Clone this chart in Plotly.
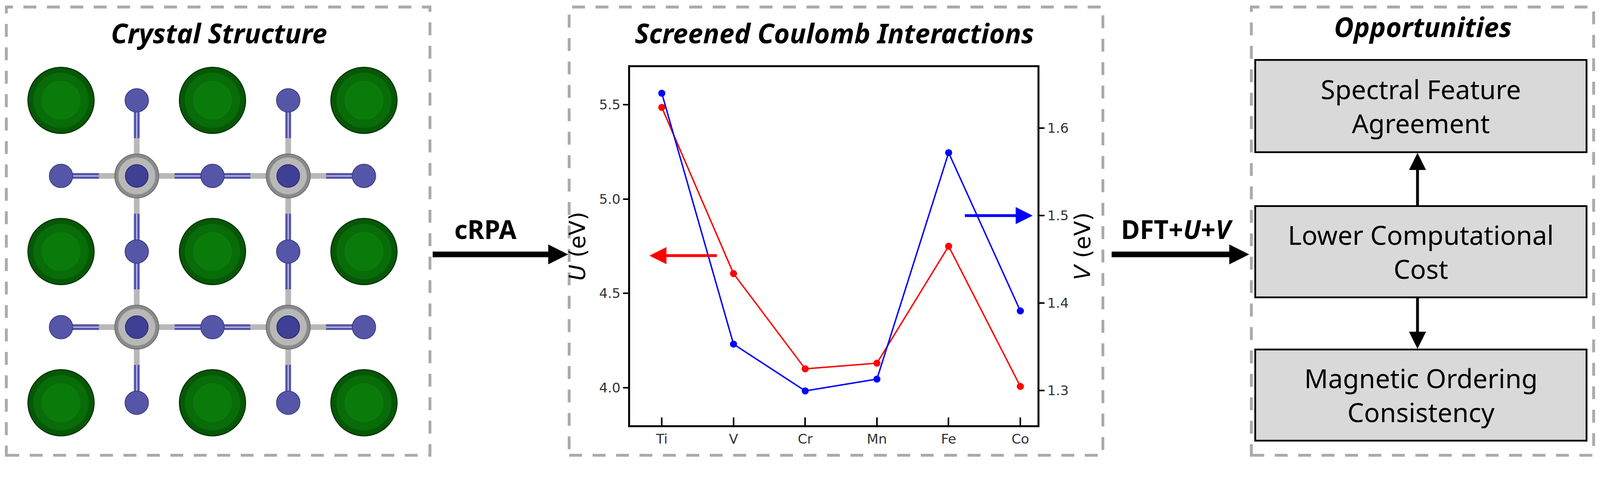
import plotly.graph_objects as go

W, H = 4487, 1283
S = 1 / 1.1  # page renders at 1.1 device px per css px

# screened Coulomb interactions
elements = ["Ti", "V", "Cr", "Mn", "Fe", "Co"]
u_onsite = [5.486, 4.605, 4.10, 4.13, 4.75, 4.007]
v_intersite = [1.640, 1.353, 1.2995, 1.313, 1.572, 1.391]
u_ticks = [4.0, 4.5, 5.0, 5.5]
v_ticks = [1.3, 1.4, 1.5, 1.6]

# crystal structure, in lattice units (half cell steps)
cation_x = [0, 2, 4, 0, 2, 4, 0, 2, 4]
cation_y = [0, 0, 0, 2, 2, 2, 4, 4, 4]
metal_x = [1, 3, 1, 3]
metal_y = [1, 1, 3, 3]
anion_x = [1, 3, 0, 2, 4, 1, 3, 0, 2, 4, 1, 3]
anion_y = [0, 0, 1, 1, 1, 2, 2, 3, 3, 3, 4, 4]

opportunities = ["Spectral Feature<br>Agreement",
                 "Lower Computational<br>Cost",
                 "Magnetic Ordering<br>Consistency"]


def px(x):
    return x / W


def py(y):
    return 1 - y / H


def s(v):
    return v * S


def atoms(x, y, size, color, line_color=None, line_width=0):
    return go.Scatter(x=x, y=y, mode="markers", xaxis="x3", yaxis="y3", cliponaxis=False,
                      marker=dict(size=s(size), color=color,
                                  line=dict(color=line_color or color, width=line_width)),
                      hoverinfo="skip")


def bonds(x, y, color, width):
    return go.Scatter(x=x, y=y, mode="lines", xaxis="x3", yaxis="y3", cliponaxis=False,
                      line=dict(color=color, width=s(width)), hoverinfo="skip")


fig = go.Figure()

# ---- crystal panel (x3/y3)
for c in [1, 3]:
    # bonds: grey full length, blue half next to anions
    fig.add_trace(bonds([c, c], [0, 4], "#b8b8b8", 16))
    fig.add_trace(bonds([0, 4], [c, c], "#b8b8b8", 16))
seg_x, seg_y = [], []
for ax_, ay_ in zip(anion_x, anion_y):
    for mx, my in zip(metal_x, metal_y):
        if abs(ax_ - mx) + abs(ay_ - my) == 1:
            seg_x += [ax_, (ax_ + mx) / 2, None]
            seg_y += [ay_, (ay_ + my) / 2, None]
fig.add_trace(bonds(seg_x, seg_y, "#5656a8", 16))
fig.add_trace(bonds(seg_x, seg_y, "#c8c8f0", 3))
fig.add_trace(atoms(cation_x, cation_y, 186, "#065806", "#043604", 3))
fig.add_trace(atoms(cation_x, cation_y, 156, "#086c08"))
fig.add_trace(atoms(cation_x, cation_y, 110, "#0a7b0a"))
fig.add_trace(atoms(metal_x, metal_y, 124, "#8a8a8a", "#6a6a6a", 2))
fig.add_trace(atoms(metal_x, metal_y, 104, "#b8b8b8"))
fig.add_trace(atoms(metal_x, metal_y, 64, "#3f3f96", "#2a2a6a", 2))
fig.add_trace(atoms(anion_x, anion_y, 66, "#5656a8", "#3a3a80", 2))

# ---- U / V chart
xs = list(range(len(elements)))
fig.add_trace(go.Scatter(x=xs, y=u_onsite, mode="lines+markers", name="U",
                         line=dict(color="#ff0000", width=s(4)), marker=dict(color="#ff0000", size=s(20))))
fig.add_trace(go.Scatter(x=xs, y=v_intersite, mode="lines+markers", name="V", yaxis="y2",
                         line=dict(color="#0000ff", width=s(4)), marker=dict(color="#0000ff", size=s(20))))

tick_font = dict(family="DejaVu Sans", size=s(38), color="#333333")
axis_title_font = dict(family="DejaVu Sans", size=s(62), color="black")
fig.update_layout(
    width=round(W * S), height=round(H * S), margin=dict(l=0, r=0, t=0, b=0),
    paper_bgcolor="white", plot_bgcolor="white", showlegend=False,
    xaxis=dict(domain=[px(1766), px(2913)], range=[-0.44, 5.24], tickvals=xs, ticktext=elements,
               ticks="inside", ticklen=s(22), tickwidth=s(4), tickcolor="black", tickfont=tick_font,
               showline=True, linecolor="black", linewidth=s(6), mirror=True, showgrid=False,
               zeroline=False, anchor="y"),
    yaxis=dict(domain=[py(1190), py(180)], range=[3.80, 5.70], tickvals=u_ticks,
               ticktext=[f"{t:.1f}" for t in u_ticks], ticks="outside", ticklen=s(14), tickwidth=s(4),
               tickcolor="black", tickfont=tick_font, showline=True, linecolor="black", linewidth=s(6),
               showgrid=False, zeroline=False,
               title=dict(text="<i>U</i> (eV)", font=axis_title_font, standoff=s(20))),
    yaxis2=dict(overlaying="y", side="right", range=[1.26, 1.67], tickvals=v_ticks,
                ticktext=[f"{t:.1f}" for t in v_ticks], ticks="outside", ticklen=s(14), tickwidth=s(4),
                tickcolor="black", tickfont=tick_font, showgrid=False, zeroline=False,
                showline=True, linecolor="black", linewidth=s(6),
                title=dict(text="<i>V</i> (eV)", font=axis_title_font, standoff=s(20))),
    xaxis3=dict(domain=[px(50), px(1130)], range=[-0.53, 4.534], visible=False, anchor="y3"),
    yaxis3=dict(domain=[py(1200), py(200)], range=[4.347, -0.347], visible=False, anchor="x3"),
)

# dashed panels
for x0, x1 in [(9, 1202), (1594, 3097), (3515, 4479)]:
    fig.add_shape(type="rect", xref="paper", yref="paper", x0=px(x0), x1=px(x1), y0=py(1274), y1=py(11),
                  line=dict(color="#aaaaaa", width=s(8), dash="33px,27px"), layer="below")

# opportunity boxes
box_rows = [(160, 420), (572, 829), (976, 1233)]
for (top, bot), label in zip(box_rows, opportunities):
    fig.add_shape(type="rect", xref="paper", yref="paper", x0=px(3526), x1=px(4459), y0=py(bot), y1=py(top),
                  fillcolor="#d9d9d9", line=dict(color="black", width=s(5)))
    fig.add_annotation(xref="paper", yref="paper", x=px(3992), y=py((top + bot) / 2), text=label,
                       xanchor="center", yanchor="middle", showarrow=False,
                       font=dict(family="Noto Sans", size=s(74), color="black"))

# titles
title_font = dict(family="Noto Sans", size=s(76), color="black")
for x, y, t in [(608, 84, "Crystal Structure"), (2341, 84, "Screened Coulomb Interactions"),
                (3998, 66, "Opportunities")]:
    fig.add_annotation(xref="paper", yref="paper", x=px(x), y=py(y), text=f"<b><i>{t}</i></b>",
                       xanchor="center", yanchor="middle", showarrow=False, font=title_font)

# flow arrows
for x0, x1, lx, label in [(1208, 1591, 1359, "<b>cRPA</b>"), (3120, 3509, 3306, "<b>DFT+<i>U</i>+<i>V</i></b>")]:
    fig.add_annotation(xref="paper", yref="paper", x=px(x1), y=py(708), ax=s(x0 - x1), ay=0,
                       axref="pixel", ayref="pixel", text="", showarrow=True, arrowhead=2,
                       arrowsize=0.7, arrowwidth=s(16), arrowcolor="black")
    fig.add_annotation(xref="paper", yref="paper", x=px(lx), y=py(636), text=label, showarrow=False,
                       xanchor="center", yanchor="middle",
                       font=dict(family="Noto Sans", size=s(72), color="black"))

# arrows between boxes
for y0, y1 in [(572, 422), (829, 974)]:
    fig.add_annotation(xref="paper", yref="paper", x=px(3983), y=py(y1), ax=0, ay=s(y0 - y1),
                       axref="pixel", ayref="pixel", text="", showarrow=True, arrowhead=2,
                       arrowsize=1.2, arrowwidth=s(8), arrowcolor="black")

# axis pointers inside chart
fig.add_annotation(x=-0.173, y=4.70, ax=0.777, ay=4.70, xref="x", yref="y", axref="x", ayref="y",
                   text="", showarrow=True, arrowhead=2, arrowsize=1.2, arrowwidth=s(8), arrowcolor="#ff0000")
fig.add_annotation(x=5.173, y=1.50, ax=4.218, ay=1.50, xref="x", yref="y2", axref="x", ayref="y2",
                   text="", showarrow=True, arrowhead=2, arrowsize=1.2, arrowwidth=s(8), arrowcolor="#0000ff")

fig.write_html("out.html")
